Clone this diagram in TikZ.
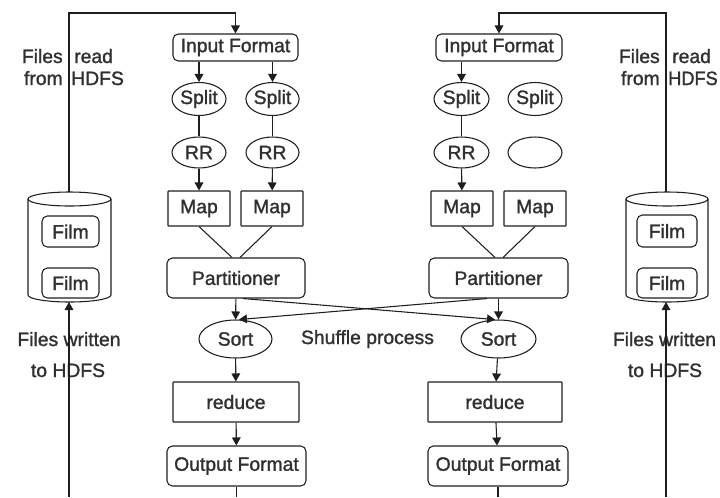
\documentclass[tikz,border=0pt]{standalone}
\usepackage{fontspec}
\setmainfont{Liberation Sans}[FakeBold=1.4]
\usetikzlibrary{arrows.meta,shapes.geometric,calc}
\definecolor{ink}{HTML}{1E1E1E}
\definecolor{txt}{HTML}{303030}
\begin{document}
\begin{tikzpicture}[x=0.75pt,y=-0.75pt,
  every node/.style={font=\fontsize{14.5}{17}\selectfont, text=txt},
  sz/.style 2 args={minimum width=#1*0.75pt, minimum height=#2*0.75pt},
  box/.style={draw=ink, line width=0.8pt, inner sep=0pt, rounded corners=0.4pt},
  rbox/.style={box, rounded corners=4pt},
  oval/.style={ellipse, draw=ink, line width=0.8pt, inner sep=0pt},
  ln/.style={draw=ink, line width=0.8pt},
  arr/.style={draw=ink, line width=0.8pt, -{Triangle[length=6pt,width=6.5pt]}},
  lbl/.style={inner sep=0pt}]
\useasboundingbox (0,0) rectangle (720,497);

% ---------- left cylinder ----------
\draw[ln] (28,199) -- (28,295) arc[start angle=180, end angle=360, x radius=31.125pt, y radius=5.25pt] -- (111,199);
\draw[ln] (69.5,199) ellipse [x radius=31.125pt, y radius=5.25pt];
\node[rbox, sz={57}{31}] (filmL1) at (70.5,231.5) {Film};
\node[rbox, sz={57}{30}] (filmL2) at (70.5,283) {Film};
\coordinate (cylLtop) at (69,192);
\coordinate (cylLbot) at (69,302);
\coordinate (topL) at (69,13);
\coordinate (botL) at (69,497);

% ---------- right cylinder ----------
\draw[ln] (626,199) -- (626,295) arc[start angle=180, end angle=360, x radius=30.75pt, y radius=5.25pt] -- (708,199);
\draw[ln] (667,199) ellipse [x radius=30.75pt, y radius=5.25pt];
\node[rbox, sz={60}{32}] (filmR1) at (667,231) {Film};
\node[rbox, sz={60}{30}] (filmR2) at (667,283) {Film};
\coordinate (cylRtop) at (666,192);
\coordinate (cylRbot) at (666,302);
\coordinate (topR) at (666,13);
\coordinate (botR) at (666,497);

% ---------- left column ----------
\node[rbox, sz={125}{27}] (inL) at (235.5,47.5) {Input Format};
\node[oval, sz={54}{33}] (spL1) at (199,99) {Split};
\node[oval, sz={53}{33}] (spL2) at (272.5,99) {Split};
\node[oval, sz={54}{31}] (rrL1) at (199,152.5) {RR};
\node[oval, sz={53}{31}] (rrL2) at (272.5,152.5) {RR};
\node[box, sz={62}{35}] (mapL1) at (199,208.5) {Map};
\node[box, sz={62}{35}] (mapL2) at (272,208.5) {Map};
\node[rbox, sz={138}{40}] (partL) at (236,278) {Partitioner};
\node[oval, sz={73}{38}] (sortL) at (235.5,339) {Sort};
\node[box, sz={126}{40}] (redL) at (236,402) {reduce};
\node[rbox, sz={139}{40}] (outL) at (236.5,466) {Output Format};

% ---------- right column ----------
\node[rbox, sz={126}{27}] (inR) at (499,47.5) {Input Format};
\node[oval, sz={55}{33}] (spR1) at (461.5,99) {Split};
\node[oval, sz={54}{33}] (spR2) at (535,99) {Split};
\node[oval, sz={55}{31}] (rrR1) at (461.5,152.5) {RR};
\node[oval, sz={54}{31}] (rrR2) at (535,152.5) {};
\node[box, sz={62}{35}] (mapR1) at (462,208.5) {Map};
\node[box, sz={62}{35}] (mapR2) at (535,208.5) {Map};
\node[rbox, sz={139}{40}] (partR) at (498.5,278) {Partitioner};
\node[oval, sz={75}{38}] (sortR) at (498.5,339) {Sort};
\node[box, sz={134}{40}] (redR) at (495,402) {reduce};
\node[rbox, sz={140}{40}] (outR) at (498,466) {Output Format};

% ---------- labels ----------
\node[lbl, anchor=base east] (fL1) at (63,63) {Files};
\node[lbl, anchor=base west] (rL1) at (74,63) {read};
\node[lbl, anchor=base east] (fL2) at (63,85) {from};
\node[lbl, anchor=base west] (hL2) at (71,85) {HDFS};
\node[lbl, anchor=base east] (fR1) at (660,63) {Files};
\node[lbl, anchor=base west] (rR1) at (672,63) {read};
\node[lbl, anchor=base east] (fR2) at (660,85) {from};
\node[lbl, anchor=base east, xscale=0.94] (hR2) at (718,85) {HDFS};
\node[lbl, anchor=base] (wL1) at (69,346) {Files written};
\node[lbl, anchor=base] (wL2) at (68,377) {to HDFS};
\node[lbl, anchor=base] (wR1) at (664.5,346) {Files written};
\node[lbl, anchor=base] (wR2) at (665,377) {to HDFS};
\node[lbl] (shuf) at (367.5,339) {Shuffle process};

% ---------- connectors: left ----------
\draw[arr] (cylLtop) -- (topL) -| (inL.north);
\draw[arr] (botL) -- (cylLbot);
\draw[arr] (inL.south -| spL1.north) -- (spL1.north);
\draw[arr] (inL.south -| spL2.north) -- (spL2.north);
\draw[ln] (spL1) -- (rrL1);
\draw[ln] (spL2) -- (rrL2);
\draw[arr] (rrL1) -- (mapL1);
\draw[arr] (rrL2) -- (mapL2);
\draw[ln] (mapL1.south) -- ($(partL.north)+(-4,0)$);
\draw[ln] (mapL2.south) -- ($(partL.north)+(4,0)$);
\draw[arr] (partL) -- (sortL);
\draw[arr] (sortL) -- (redL);
\draw[arr] (redL) -- (outL);
\draw[ln] (outL.south) -- (outL.south |- botL);

% ---------- connectors: right ----------
\draw[arr] (cylRtop) -- (topR) -| (inR.north);
\draw[arr] (botR) -- (cylRbot);
\draw[arr] (inR.south -| spR1.north) -- (spR1.north);
\draw[ln] (spR1) -- (rrR1);
\draw[arr] (rrR1) -- (mapR1);
\draw[ln] (mapR1.south) -- ($(partR.north)+(-3.5,0)$);
\draw[ln] (mapR2.south) -- ($(partR.north)+(4.5,0)$);
\draw[arr] (partR) -- (sortR);
\draw[arr] (sortR) -- (redR);
\draw[arr] (redR) -- (outR);
\draw[ln] (outR.south) -- (outR.south |- botR);

% ---------- shuffle cross ----------
\draw[arr] ($(partL.south)+(7,0)$) -- (sortR.100);
\draw[arr] ($(partR.south)+(-11.5,0)$) -- (sortL.80);
\end{tikzpicture}
\end{document}
